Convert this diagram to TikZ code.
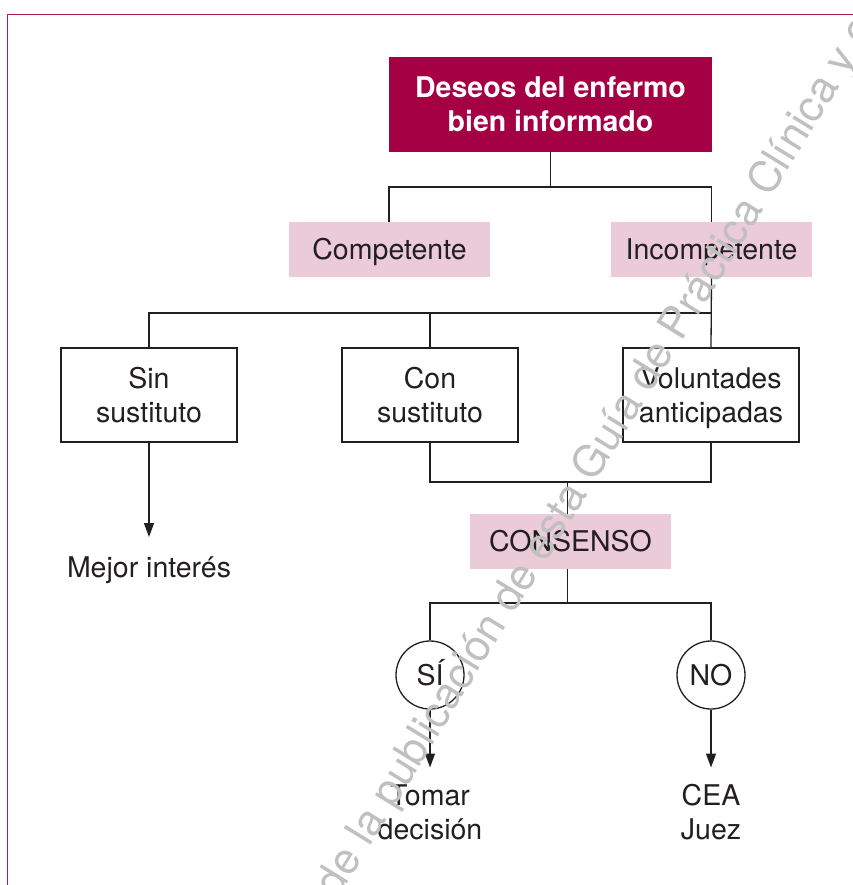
\documentclass[tikz,border=0pt]{standalone}
\usepackage{fontspec}
\setmainfont{TeX Gyre Heros}
\usetikzlibrary{arrows.meta}
\definecolor{crim}{RGB}{165,0,68}
\definecolor{frame}{RGB}{180,20,90}
\definecolor{pinkbox}{RGB}{235,203,216}
\definecolor{ink}{RGB}{35,31,32}
\definecolor{wm}{RGB}{192,192,192}
\begin{document}
\begin{tikzpicture}[x=1pt,y=-1pt,
  every node/.style={font=\fontsize{28.5}{34}\selectfont, text=ink},
  conn/.style={draw=ink, line width=1.3pt},
  arr/.style={conn, -{Triangle[width=10pt,length=14pt]}},
  headbox/.style={rectangle, fill=crim, minimum width=323pt, minimum height=95pt, inner sep=0pt, align=center, text=white, font=\fontsize{28.5}{34}\selectfont\bfseries},
  pinkb/.style={rectangle, fill=pinkbox, minimum width=201pt, minimum height=55pt, inner sep=0pt, text height=20.5pt, text depth=0pt},
  wbox/.style={rectangle, draw=ink, line width=1.3pt, fill=white, minimum width=176pt, minimum height=94pt, inner sep=0pt, align=center},
  decis/.style={circle, draw=ink, line width=1.3pt, fill=white, minimum size=68pt, inner sep=0pt, text height=20.5pt, text depth=0pt},
  lbl/.style={inner sep=0pt, align=center},
  wmtext/.style={rotate=58.3, inner sep=0pt, text=wm, font=\fontsize{43.3}{43.3}\selectfont}
]
\useasboundingbox (0,0) rectangle (852,885);
\fill[white] (0,0) rectangle (852,885);
% frame
\draw[frame, line width=1.4pt] (7.5,886) -- (7.5,14.5) -- (853,14.5);

% nodes
\node[headbox] (top) at (550.5,104.5) {Deseos del enfermo\\bien informado};
\node[pinkb] (comp) at (389.5,249.5) {Competente};
\node[pinkb] (incomp) at (711.5,249.5) {Incompetente};
\node[wbox] (sin) at (149,395) {Sin\\sustituto};
\node[wbox] (con) at (430,395) {Con\\sustituto};
\node[wbox] (vol) at (711,395) {Voluntades\\\raisebox{0pt}[\height][0pt]{anticipadas}};
\node[lbl, anchor=base] (mejor) at (149,577) {Mejor interés};
\node[pinkb] (cons) at (570.5,541.5) {CONSENSO};
\node[decis] (si) at (430,675) {SÍ};
\node[decis] (no) at (711,675) {NO};
\node[lbl, anchor=north] (tomar) at (430,784.5) {Tomar\\decisión};
\node[lbl, anchor=north] (cea) at (711,784.5) {CEA\\Juez};

% junction coordinates
\coordinate (j1) at (550.5,187);
\coordinate (j2) at (430,313);
\coordinate (j3) at (567.5,482);
\coordinate (j4) at (567.5,603);

% connectors
\draw[conn] (top.south) -- (j1);
\draw[conn] (comp.north -| 389,0) |- (j1) -| (incomp.north);
\draw[conn] (incomp.south) -- (vol.north);
\draw[conn] (sin.north) |- (vol.north |- j2);
\draw[conn] (con.north) -- (j2);
\draw[conn] (con.south) |- (j3) -| (vol.south);
\draw[conn] (j3) -- (j3 |- cons.north);
\draw[conn] (j3 |- cons.south) -- (j4);
\draw[conn] (si.north) |- (j4) -| (no.north);
\draw[arr, shorten >=19pt] (sin.south) -- (sin.south |- mejor.north);
\draw[arr, shorten >=17pt] (si.south) -- (tomar.north);
\draw[arr, shorten >=17pt] (no.south) -- (cea.north);

% watermark
\begin{scope}
\clip (0,0) rectangle (852,885);
\node[wmtext, anchor=base east] (wmA) at (594.5,483.5) {Han pasado más de 5 años desde la publicación de esta\ \null};
\node[wmtext, anchor=base west] (wmB) at (594.5,483.5) {Guía de Práctica Clínica y está pendiente su actualización};
\end{scope}
\end{tikzpicture}
\end{document}
